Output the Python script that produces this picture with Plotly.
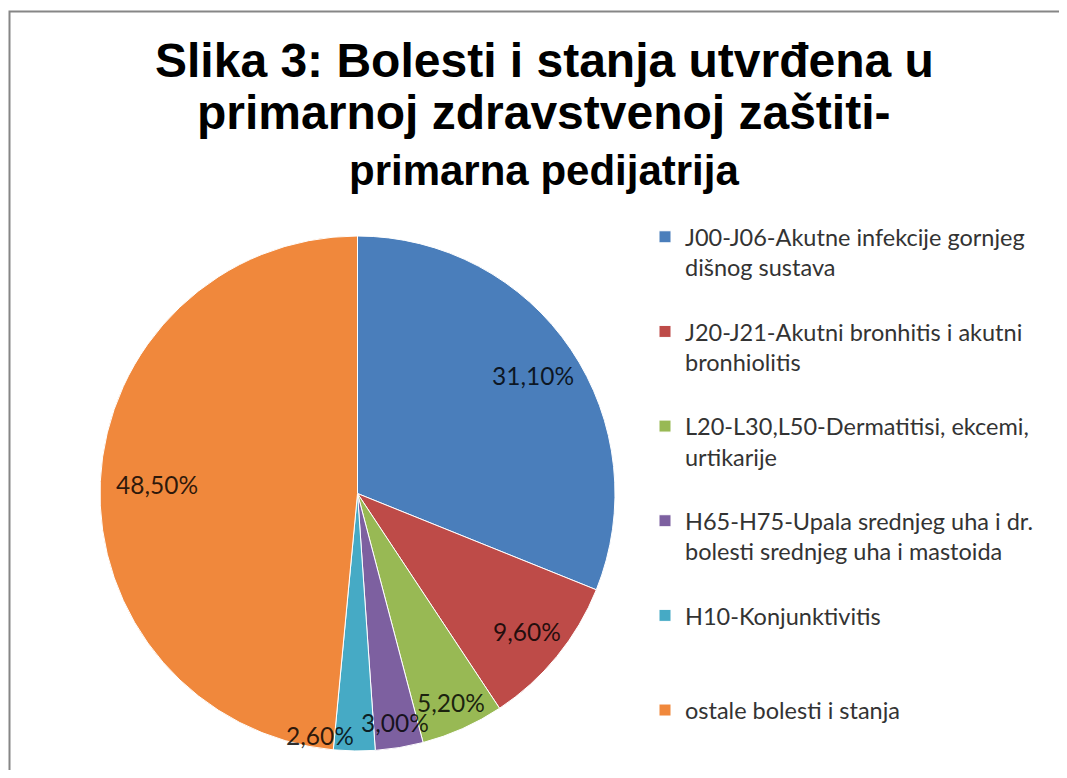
import math
import plotly.graph_objects as go

# ---- data ----
categories = [
    "J00-J06-Akutne infekcije gornjeg<br>dišnog sustava",
    "J20-J21-Akutni bronhitis i akutni<br>bronhiolitis",
    "L20-L30,L50-Dermatitisi, ekcemi,<br>urtikarije",
    "H65-H75-Upala srednjeg uha i dr.<br>bolesti srednjeg uha i mastoida",
    "H10-Konjunktivitis",
    "ostale bolesti i stanja",
]
values = [31.1, 9.6, 5.2, 3.0, 2.6, 48.5]

title_lines = [
    "Slika 3: Bolesti i stanja utvrđena u",
    "primarnoj zdravstvenoj zaštiti-",
    "primarna pedijatrija",
]

# ---- styles / layout ----
colors = ["#4A7EBB", "#BE4B48", "#98B954", "#7D60A0", "#46AAC5", "#F0883C"]
label_radius = [0.82, 0.85, 0.89, 0.90, 0.95, 0.78]
label_angle_shift = [0, 0, 0, 0, 8.2, 0]

OFF = 8  # page body margin in the browser
W, H = 1067 - 2 * OFF, 778 - 2 * OFF

def px(x):
    return (x - OFF) / W

def py(y):
    return 1 - (y - OFF) / H

# pie area (screen pixels)
pie_left, pie_right, pie_top, pie_bottom = 100, 615, 235, 752

# legend labels: pad multi-line spacing so entries are evenly spaced
n_lines = [c.count("<br>") + 1 for c in categories]
legend_labels = []
for i, (c, n) in enumerate(zip(categories, n_lines)):
    pad = "" if i == len(categories) - 1 else "<br> " * (3 - n)
    legend_labels.append(c + pad)

fig = go.Figure()
fig.add_trace(go.Pie(
    labels=legend_labels,
    values=values,
    sort=False,
    direction="clockwise",
    rotation=0,
    marker=dict(colors=colors, line=dict(color="white", width=1)),
    textinfo="none",
    domain=dict(x=[px(pie_left), px(pie_right)], y=[py(pie_bottom), py(pie_top)]),
    hovertemplate="%{label}<br>%{value:.2f}%<extra></extra>",
))

# data labels placed around the pie from the slice angles
cx = (pie_left + pie_right) / 2
cy = (pie_top + pie_bottom) / 2
R = min(pie_right - pie_left, pie_bottom - pie_top) / 2
total = sum(values)
cum = 0.0
for v, f, dth in zip(values, label_radius, label_angle_shift):
    theta = math.radians(360.0 * (cum + v / 2) / total + dth)
    cum += v
    x = cx + f * R * math.sin(theta)
    y = cy - f * R * math.cos(theta)
    fig.add_annotation(
        text=f"{v:.2f}%".replace(".", ","), x=px(x), y=py(y),
        xref="paper", yref="paper", xanchor="center", yanchor="middle",
        showarrow=False, font=dict(family="Lato", size=24.5, color="rgba(0,0,0,0.82)"),
    )

title_y = [60, 112, 170]
title_sizes = [48, 48, 42]
for txt, yy, sz in zip(title_lines, title_y, title_sizes):
    fig.add_annotation(
        text="<b>" + txt + "</b>", x=px(544), y=py(yy),
        xref="paper", yref="paper", xanchor="center", yanchor="middle",
        showarrow=False, font=dict(family="Liberation Sans", size=sz, color="#000000"),
    )

# chart frame: only the left and top edges are inside the visible area
bx, by = px(9.5), py(11.5)
fig.add_shape(
    type="path", xref="paper", yref="paper",
    path=f"M {bx},-0.05 L {bx},{by} L 1.05,{by}",
    line=dict(color="#868686", width=2), fillcolor="rgba(0,0,0,0)",
)

fig.update_layout(
    width=W, height=H,
    margin=dict(l=0, r=0, t=0, b=0),
    paper_bgcolor="white", plot_bgcolor="white",
    showlegend=True,
    legend=dict(
        x=px(645), y=py(215), xanchor="left", yanchor="top",
        valign="top",
        font=dict(family="Lato", size=23.5, color="#333333"),
        bgcolor="rgba(0,0,0,0)",
    ),
)

fig.write_html("out.html")
